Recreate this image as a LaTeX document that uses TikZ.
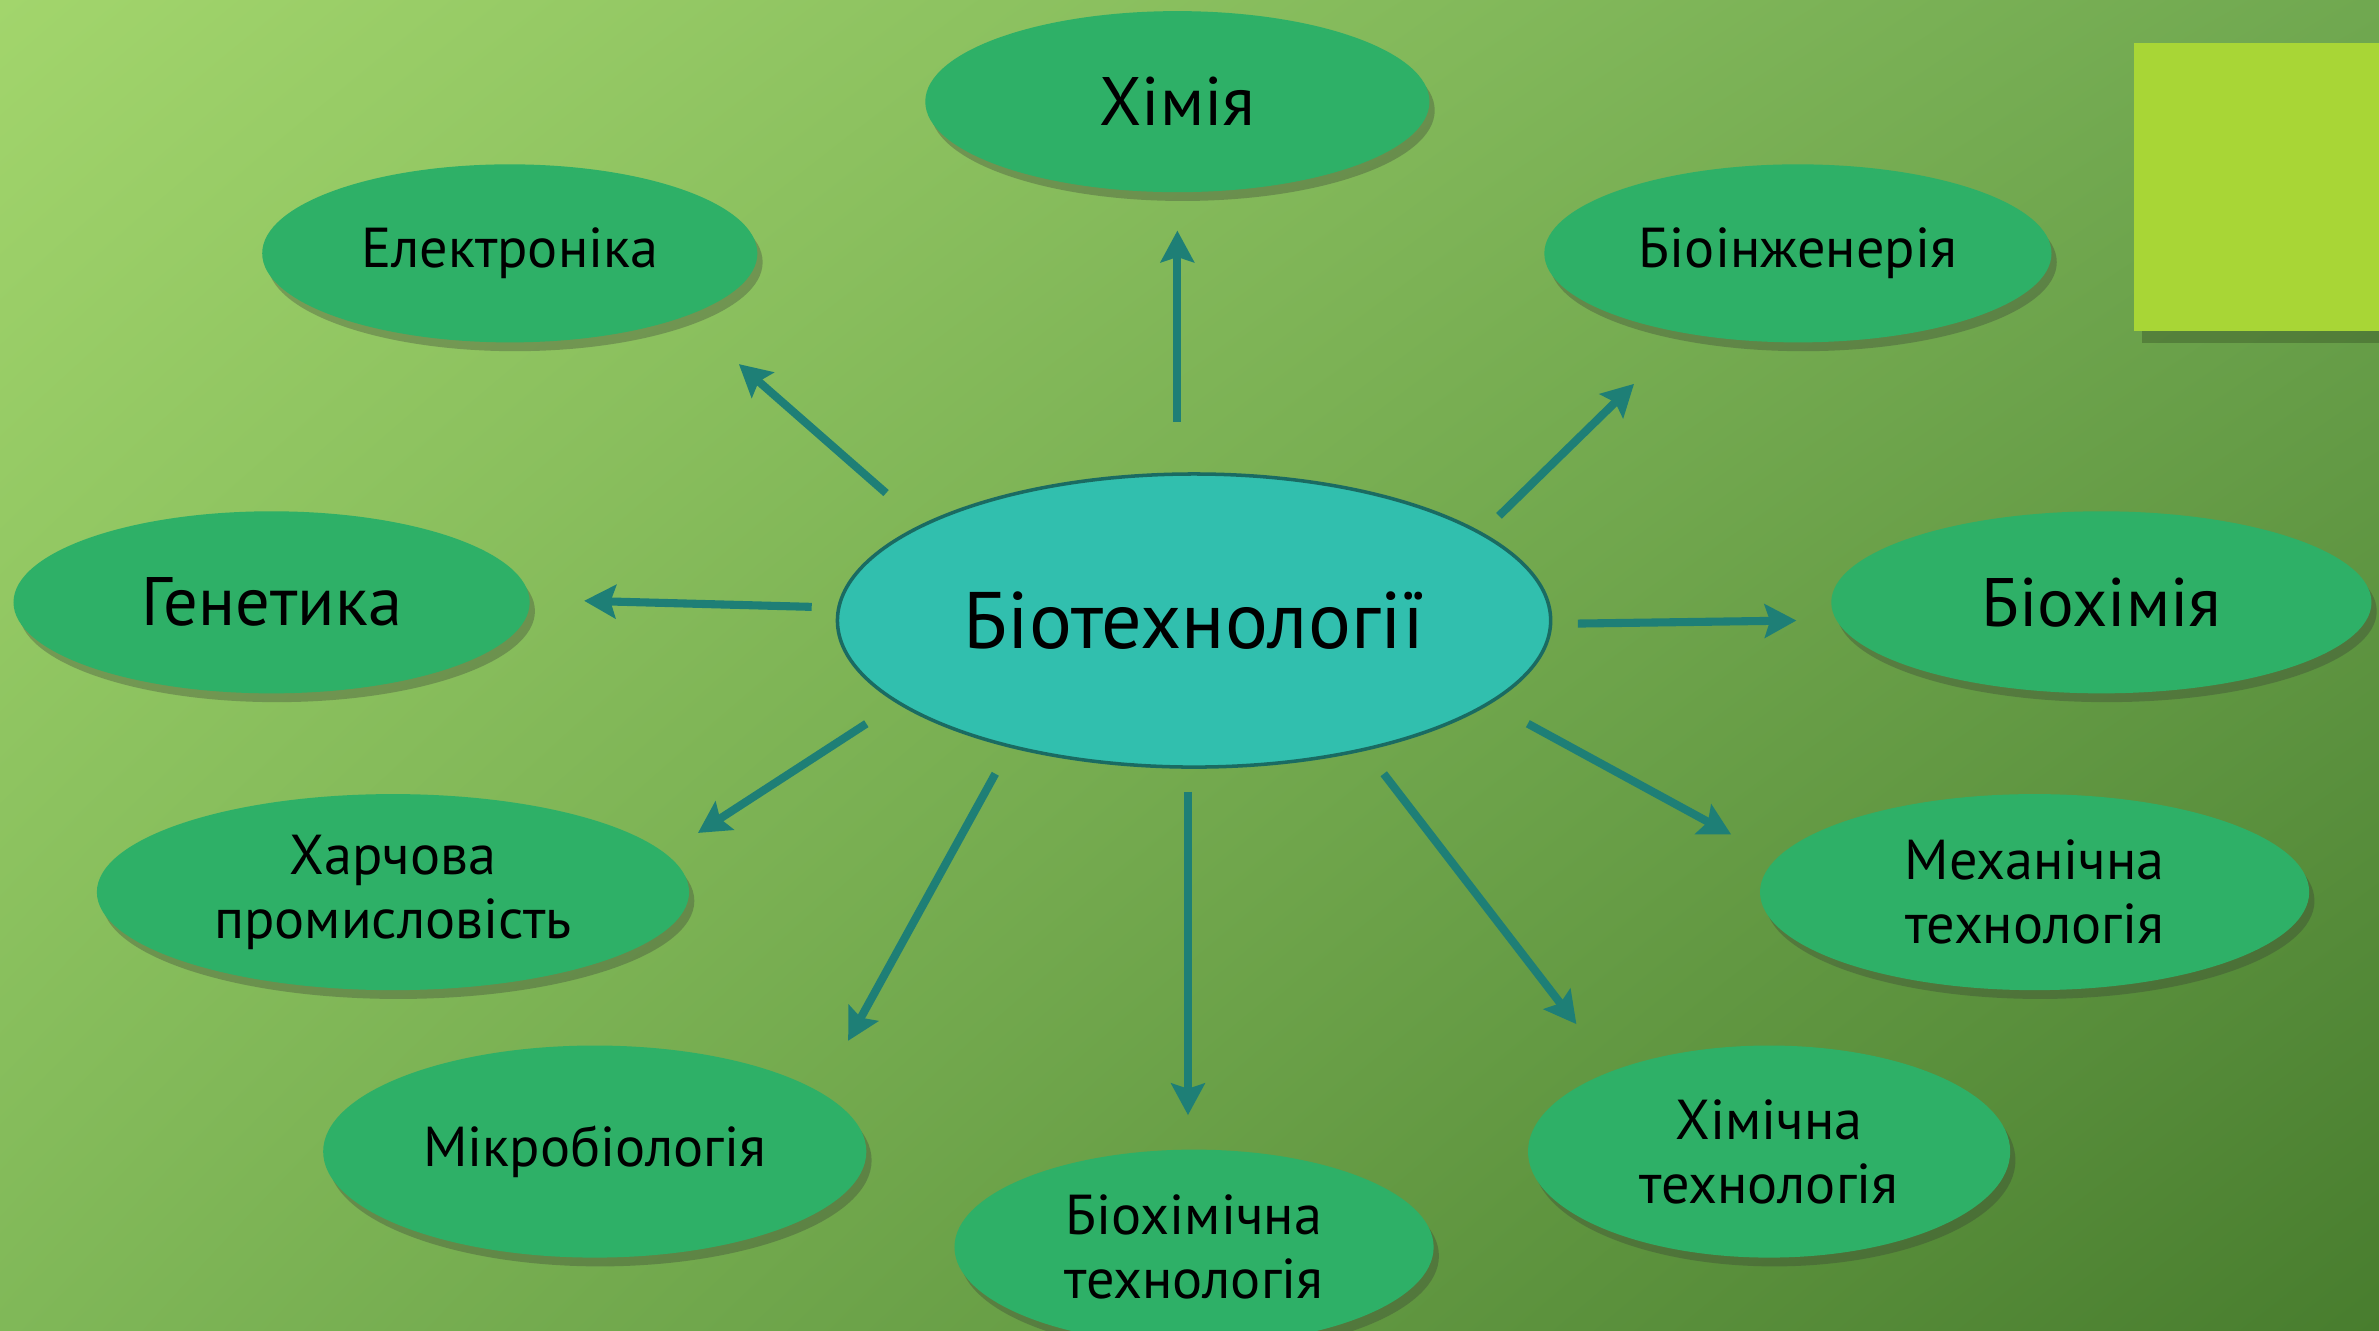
\documentclass[tikz,border=0pt]{standalone}
\usepackage{fontspec}
\setmainfont{PT Sans}
\usepackage{tikz}
\usetikzlibrary{arrows.meta, shadows, shadings, shapes.geometric}
\tikzset{>=latex}
\definecolor{bgtl}{RGB}{162, 213, 108}
\definecolor{bgtr}{RGB}{112, 168, 80}
\definecolor{bgbl}{RGB}{128, 184, 88}
\definecolor{bgbr}{RGB}{72, 125, 46}
\definecolor{leafgreen}{RGB}{46, 176, 103}
\definecolor{hubteal}{RGB}{49, 191, 174}
\definecolor{hubline}{RGB}{26, 107, 98}
\definecolor{arrowteal}{RGB}{30, 127, 118}
\definecolor{limebox}{RGB}{168, 214, 54}

\begin{document}
\begin{tikzpicture}[
    x = 0.015172cm, y = -0.015172cm,
    leaf/.style = {ellipse, fill = leafgreen, inner sep = 0, align = center,
        drop shadow = {shadow xshift = 1.5pt, shadow yshift = -2.5pt, opacity = 0.3, fill = black!80}},
    big/.style = {font = \fontsize{19.5}{23}\selectfont},
    small/.style = {font = \fontsize{16}{18.2}\selectfont},
    hub/.style = {ellipse, fill = hubteal, draw = hubline, line width = 1pt, inner sep = 0,
        font = \fontsize{22.8}{26}\selectfont},
    link/.style = {line width = 2.3pt, arrowteal, -{Stealth[length = 9pt, width = 9.5pt, inset = 1.5pt]}}
]

\shade[upper left = bgtl, upper right = bgtr, lower left = bgbl, lower right = bgbr]
    (0,0) rectangle (1568,877);
\useasboundingbox (0,0) rectangle (1568,877);

\fill[black, opacity = 0.2] (1412,218) rectangle (1568,226);
\fill[limebox] (1406.6,28.3) rectangle (1568,218.2);

\node[hub, minimum width = 7.13cm, minimum height = 2.93cm] (hub) at (787,409) {Біотехнології};

\node[leaf, big, minimum width = 5.04cm, minimum height = 1.81cm] (chem) at (776,67) {Хімія};
\node[leaf, small, minimum width = 4.95cm, minimum height = 1.78cm] (elec) at (336,167) {Електроніка};
\node[leaf, small, minimum width = 5.07cm, minimum height = 1.78cm] (bioeng) at (1185,167) {Біоінженерія};
\node[leaf, big, minimum width = 5.16cm, minimum height = 1.82cm] (gen) at (179,397) {Генетика};
\node[leaf, big, minimum width = 5.40cm, minimum height = 1.82cm] (biochem) at (1385,397) {Біохімія};
\node[leaf, small, minimum width = 5.92cm, minimum height = 1.96cm] (food) at (259,588) {Харчова\\промисловість};
\node[leaf, small, minimum width = 5.49cm, minimum height = 1.96cm] (mech) at (1341,588) {Механічна\\технологія};
\node[leaf, small, minimum width = 5.43cm, minimum height = 2.12cm] (micro) at (392,759) {Мікробіологія};
\node[leaf, small, minimum width = 4.82cm, minimum height = 2.12cm] (chemtech) at (1166,759) {Хімічна\\технологія};
\node[leaf, small, minimum width = 4.79cm, minimum height = 1.95cm] (biochemtech) at (787,822) {Біохімічна\\технологія};

% arrow ends
\coordinate (chem-a) at (776,278);    \coordinate (chem-b) at (776,152);
\coordinate (elec-a) at (584,325);    \coordinate (elec-b) at (487,240);
\coordinate (bioeng-a) at (988,340);  \coordinate (bioeng-b) at (1077,253);
\coordinate (gen-a) at (535,400);     \coordinate (gen-b) at (385,396);
\coordinate (biochem-a) at (1040,411); \coordinate (biochem-b) at (1184,409);
\coordinate (food-a) at (571,477);    \coordinate (food-b) at (460,549);
\coordinate (micro-a) at (656,510);   \coordinate (micro-b) at (559,686);
\coordinate (bct-a) at (783,522);     \coordinate (bct-b) at (783,735);
\coordinate (ct-a) at (912,510);      \coordinate (ct-b) at (1039,675);
\coordinate (mech-a) at (1007,477);   \coordinate (mech-b) at (1141,550);

\draw[link] (chem-a) -- (chem-b);
\draw[link] (elec-a) -- (elec-b);
\draw[link] (bioeng-a) -- (bioeng-b);
\draw[link] (gen-a) -- (gen-b);
\draw[link] (biochem-a) -- (biochem-b);
\draw[link] (food-a) -- (food-b);
\draw[link] (micro-a) -- (micro-b);
\draw[link] (bct-a) -- (bct-b);
\draw[link] (ct-a) -- (ct-b);
\draw[link] (mech-a) -- (mech-b);

\end{tikzpicture}
\end{document}
